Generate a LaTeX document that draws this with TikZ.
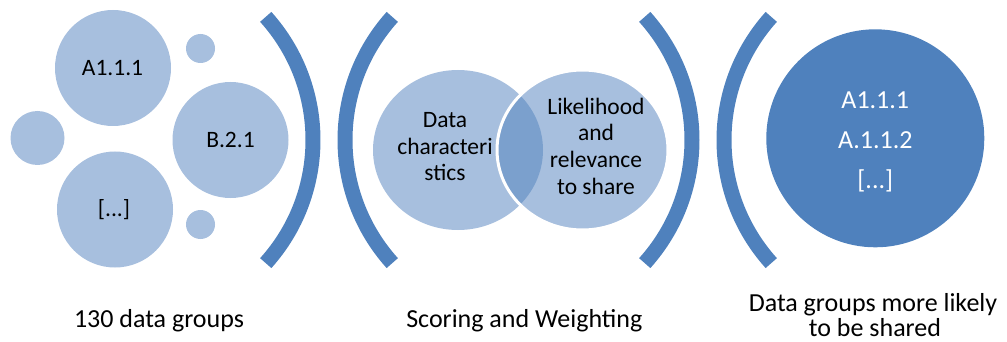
\documentclass[tikz,border=0pt]{standalone}
\usepackage{fontspec}
\setmainfont{Carlito}
\usetikzlibrary{shapes.geometric}
\definecolor{lblue}{HTML}{A7BFDE}
\definecolor{dblue}{HTML}{4F81BD}
\definecolor{mblue}{HTML}{7BA0CD}
\begin{document}
\begin{tikzpicture}[x=1pt,y=-1pt,
  bubble/.style={circle,fill=lblue,inner sep=0pt,draw=none},
  brk/.style={draw=dblue,line width=15pt},
  intxt/.style={anchor=base,inner sep=0pt,font=\fontsize{23.5}{26}\selectfont},
  bigtxt/.style={anchor=base,inner sep=0pt,text=white,font=\fontsize{26}{28}\selectfont},
  lbl/.style={anchor=base,inner sep=0pt,font=\fontsize{26}{27}\selectfont}]
\useasboundingbox (0,0) rectangle (1007,342);
% left cluster
\node[bubble,minimum size=116pt] (c1) at (113,68) {};
\node[bubble,minimum size=29pt] (c2) at (200.5,48.5) {};
\node[bubble,minimum size=54pt] (c3) at (37.5,138) {};
\node[bubble,minimum size=116pt] (c4) at (230.5,140) {};
\node[bubble,minimum size=116pt] (c5) at (115,209.5) {};
\node[bubble,minimum size=29pt] (c6) at (200.5,224.5) {};
\node[intxt] (t1) at (112.5,76) {A1.1.1};
\node[intxt] (t2) at (230.5,148) {B.2.1};
\node[intxt] (t3) at (114,216.5) {[...]};
% brackets
\draw[brk] (129,140) ++(-42:184pt) arc[start angle=-42,end angle=42,radius=184pt];
\draw[brk] (529,140) ++(138:184pt) arc[start angle=138,end angle=222,radius=184pt];
\draw[brk] (508,140) ++(-42:184pt) arc[start angle=-42,end angle=42,radius=184pt];
\draw[brk] (908,140) ++(138:184pt) arc[start angle=138,end angle=222,radius=184pt];
% venn
\fill[lblue] (458,150) ellipse[x radius=85pt,y radius=80pt];
\fill[lblue] (582.5,150) ellipse[x radius=85.5pt,y radius=80pt];
\begin{scope}
\clip (458,150) ellipse[x radius=85pt,y radius=80pt];
\fill[mblue] (582.5,150) ellipse[x radius=85.5pt,y radius=80pt];
\end{scope}
\draw[white,line width=3pt] (582.5,150) ellipse[x radius=85.5pt,y radius=80pt];
\node[intxt] (v1) at (445,127.5) {Data};
\node[intxt] (v2) at (445,154) {characteri};
\node[intxt] (v3) at (445,180.5) {stics};
\node[intxt] (w1) at (596,114.5) {Likelihood};
\node[intxt] (w2) at (596,141) {and};
\node[intxt] (w3) at (596,167.5) {relevance};
\node[intxt] (w4) at (596,194) {to share};
% result circle
\node[circle,fill=dblue,inner sep=0pt,minimum size=218pt] (big) at (875.3,138.3) {};
\node[bigtxt] (r1) at (875.3,108.4) {A1.1.1};
\node[bigtxt] (r2) at (875.3,148.4) {A.1.1.2};
\node[bigtxt] (r3) at (875.3,188.5) {[...]};
% labels
\node[lbl] (l1) at (159,327) {130 data groups};
\node[lbl] (l2) at (524.3,327) {Scoring and Weighting};
\node[lbl] (l3) at (873,311) {Data groups more likely};
\node[lbl] (l4) at (875,336) {to be shared};
\end{tikzpicture}
\end{document}
